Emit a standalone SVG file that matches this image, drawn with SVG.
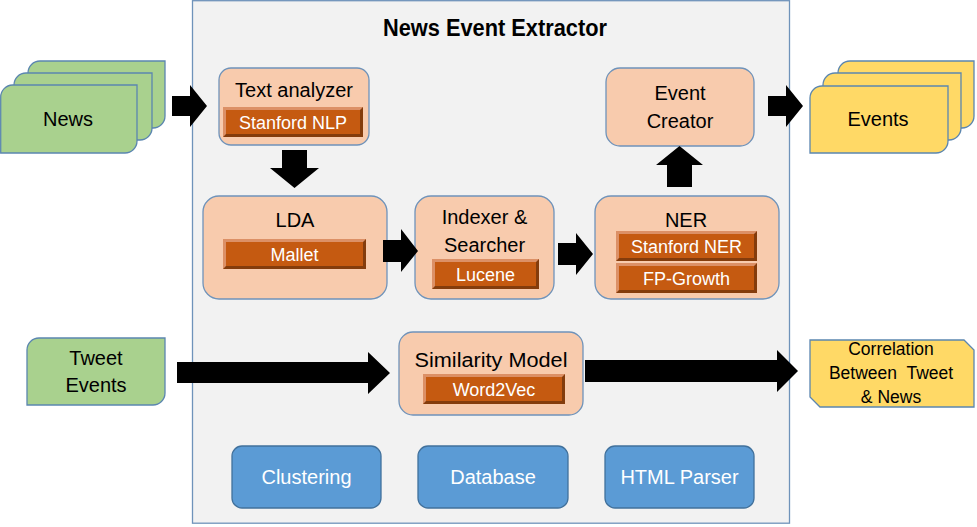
<svg xmlns="http://www.w3.org/2000/svg" width="977" height="527" viewBox="0 0 977 527">
<style>
text{font-family:"Liberation Sans",Arial,sans-serif;text-anchor:middle}
.lbl{font-size:20px;fill:#000}
.sub{font-size:18px;fill:#fff}
.wht{font-size:20px;fill:#fff}
.frame{fill:#f2f2f2;stroke:#6f93ba;stroke-width:1.3}
.orange{fill:#f8cbad;stroke:#6f93ba;stroke-width:1.3}
.green{fill:#a9d18e;stroke:#5b86b0;stroke-width:1.3}
.yellow{fill:#ffd966;stroke:#5b86b0;stroke-width:1.3}
.blue{fill:#5b9bd5;stroke:#41719c;stroke-width:1.3}
.bd{fill:#843c0c}
.bl{fill:#dc9066}
.bm{fill:#c55a11}
.arrow{fill:#000}
.corr{font-size:17.5px;fill:#000}
</style>
<rect class="frame" x="192.5" y="0.7" width="597" height="522.5"/>
<text x="495" y="36" style="font-size:23px;font-weight:bold" textLength="224" lengthAdjust="spacingAndGlyphs">News Event Extractor</text>

<g id="news">
<path class="green" d="M40,61 H165 V116 A12,12 0 0 1 153,128 H28 V73 A12,12 0 0 1 40,61 Z"/>
<path class="green" d="M26,73 H152 V128 A12,12 0 0 1 140,140 H14 V85 A12,12 0 0 1 26,73 Z"/>
<path class="green" d="M12.5,85 H137 V141 A12,12 0 0 1 125,153 H0.7 V97 A12,12 0 0 1 12.5,85 Z"/>
<text class="lbl" x="68" y="126">News</text>
</g>

<g id="events">
<path class="yellow" d="M850,61 H974 V116 A12,12 0 0 1 962,128 H838 V73 A12,12 0 0 1 850,61 Z"/>
<path class="yellow" d="M835,73 H961 V128 A12,12 0 0 1 949,140 H823 V85 A12,12 0 0 1 835,73 Z"/>
<path class="yellow" d="M822,86 H948 V141 A12,12 0 0 1 936,153 H810 V98 A12,12 0 0 1 822,86 Z"/>
<text class="lbl" x="878" y="126">Events</text>
</g>

<g id="text-analyzer">
<rect class="orange" x="219" y="68" width="150" height="77" rx="12"/>
<text class="lbl" x="294" y="97">Text analyzer</text>
<rect class="bd" x="223" y="107" width="140" height="30"/>
<polygon class="bl" points="223,107 363,107 360,110 226,110 226,134 223,137"/>
<rect class="bm" x="226" y="110" width="134" height="24"/>
<text class="sub" x="293" y="128.5">Stanford NLP</text>
</g>

<g id="event-creator">
<rect class="orange" x="606" y="68" width="148" height="78" rx="14"/>
<text class="lbl" x="680" y="100">Event</text>
<text class="lbl" x="680" y="128">Creator</text>
</g>

<g id="lda">
<rect class="orange" x="203" y="196" width="184" height="103" rx="16"/>
<text class="lbl" x="295" y="227">LDA</text>
<rect class="bd" x="223" y="239" width="143" height="30"/>
<polygon class="bl" points="223,239 366,239 363,242 226,242 226,266 223,269"/>
<rect class="bm" x="226" y="242" width="137" height="24"/>
<text class="sub" x="294.5" y="260.5">Mallet</text>
</g>

<g id="indexer">
<rect class="orange" x="415" y="196" width="139" height="103" rx="16"/>
<text class="lbl" x="484.5" y="224">Indexer &amp;</text>
<text class="lbl" x="484.5" y="252">Searcher</text>
<rect class="bd" x="432" y="259" width="107" height="30"/>
<polygon class="bl" points="432,259 539,259 536,262 435,262 435,286 432,289"/>
<rect class="bm" x="435" y="262" width="101" height="24"/>
<text class="sub" x="485.5" y="280.5">Lucene</text>
</g>

<g id="ner">
<rect class="orange" x="595" y="196" width="184" height="103" rx="16"/>
<text class="lbl" x="686" y="227">NER</text>
<rect class="bd" x="616" y="231" width="141" height="30"/>
<polygon class="bl" points="616,231 757,231 754,234 619,234 619,258 616,261"/>
<rect class="bm" x="619" y="234" width="135" height="24"/>
<text class="sub" x="686.5" y="252.5">Stanford NER</text>
<rect class="bd" x="616" y="263" width="141" height="30"/>
<polygon class="bl" points="616,263 757,263 754,266 619,266 619,290 616,293"/>
<rect class="bm" x="619" y="266" width="135" height="24"/>
<text class="sub" x="686.5" y="284.5">FP-Growth</text>
</g>

<g id="tweet-events">
<path class="green" d="M39,338 H165 V393 A12,12 0 0 1 153,405 H27 V350 A12,12 0 0 1 39,338 Z"/>
<text class="lbl" x="96" y="365">Tweet</text>
<text class="lbl" x="96" y="392">Events</text>
</g>

<g id="similarity">
<rect class="orange" x="399" y="332" width="184" height="83" rx="14"/>
<text class="lbl" x="491" y="367" textLength="153" lengthAdjust="spacingAndGlyphs">Similarity Model</text>
<rect class="bd" x="423" y="374" width="142" height="30"/>
<polygon class="bl" points="423,374 565,374 562,377 426,377 426,401 423,404"/>
<rect class="bm" x="426" y="377" width="136" height="24"/>
<text class="sub" x="494" y="395.5">Word2Vec</text>
</g>

<g id="correlation">
<path class="yellow" d="M810,340 H964 L974,350 V407 H820 L810,397 Z"/>
<text class="corr" x="891" y="355">Correlation</text>
<text class="corr" x="891" y="379" xml:space="preserve">Between  Tweet</text>
<text class="corr" x="891" y="403">&amp; News</text>
</g>

<g id="clustering">
<rect class="blue" x="232" y="446" width="149" height="62" rx="10"/>
<text class="wht" x="306.5" y="484">Clustering</text>
</g>
<g id="database">
<rect class="blue" x="418" y="446" width="150" height="62" rx="10"/>
<text class="wht" x="493" y="484">Database</text>
</g>
<g id="html-parser">
<rect class="blue" x="605" y="446" width="149" height="62" rx="10"/>
<text class="wht" x="679.5" y="484">HTML Parser</text>
</g>

<g id="connectors">
<polygon class="arrow" points="172,96 190,96 190,85 207,106 190,127 190,116 172,116"/>
<polygon class="arrow" points="282,150 307,150 307,168 319,168 294.5,188 270,168 282,168"/>
<polygon class="arrow" points="383,240 401,240 401,229 418,251 401,272 401,262 383,262"/>
<polygon class="arrow" points="558,243 576,243 576,233 593,254 576,275 576,265 558,265"/>
<polygon class="arrow" points="667,187 692,187 692,165 703,165 679.5,146 656,165 667,165"/>
<polygon class="arrow" points="768,96 786,96 786,85 803,106 786,127 786,116 768,116"/>
<polygon class="arrow" points="177,362 368,362 368,352 390,373 368,394 368,383 177,383"/>
<polygon class="arrow" points="585,360 777,360 777,350 798,371 777,392 777,382 585,382"/>
</g>
</svg>
